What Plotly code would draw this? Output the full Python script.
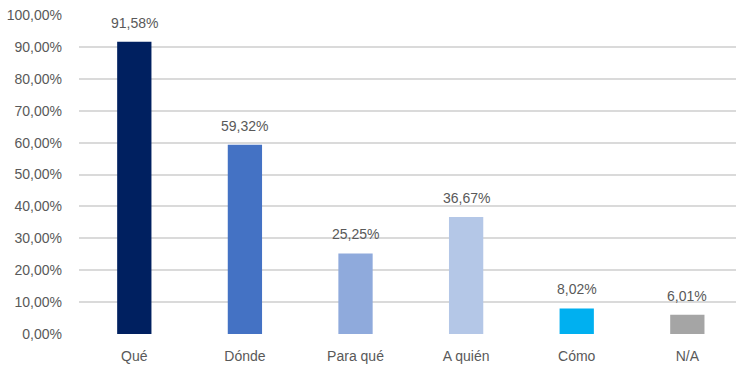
import plotly.graph_objects as go

categories = ["Qué", "Dónde", "Para qué", "A quién", "Cómo", "N/A"]
values = [91.58, 59.32, 25.25, 36.67, 8.02, 6.01]
bar_colors = ["#002060", "#4472C4", "#8FAADC", "#B4C7E7", "#00B0F0", "#A5A5A5"]
tick_values = list(range(0, 101, 10))
tick_labels = [f"{v},00%" for v in tick_values]

TEXT = "#595959"
FONT = "Liberation Sans, Arial, sans-serif"
SIZE = 14


def pct(v):
    return f"{v:.2f}".replace(".", ",") + "%"


fig = go.Figure(
    go.Bar(
        x=list(range(len(categories))),
        y=values,
        marker=dict(color=bar_colors, line=dict(width=0)),
        width=0.31,
        hoverinfo="skip",
    )
)

for i, v in enumerate(values):
    fig.add_annotation(
        x=i, y=v, text=pct(v), showarrow=False,
        yanchor="middle", yshift=19,
        font=dict(family=FONT, size=SIZE, color=TEXT),
    )

fig.update_layout(
    width=736, height=367,
    margin=dict(l=79, r=0, t=15, b=33),
    paper_bgcolor="white", plot_bgcolor="white",
    showlegend=False,
    font=dict(family=FONT, size=SIZE, color=TEXT),
    xaxis=dict(
        tickmode="array", tickvals=list(range(len(categories))), ticktext=categories,
        range=[-0.5, 5.44], showgrid=False, zeroline=False, showline=False,
        ticks="", ticklabelstandoff=12, tickfont=dict(size=SIZE, color=TEXT),
    ),
    yaxis=dict(
        range=[0, 100], tickmode="array", tickvals=tick_values, ticktext=tick_labels,
        showgrid=True, gridcolor="#DADADA", gridwidth=2,
        zeroline=False, showline=False, ticks="", ticklabelstandoff=16,
        tickfont=dict(size=SIZE, color=TEXT),
    ),
)

fig.write_html("out.html")
